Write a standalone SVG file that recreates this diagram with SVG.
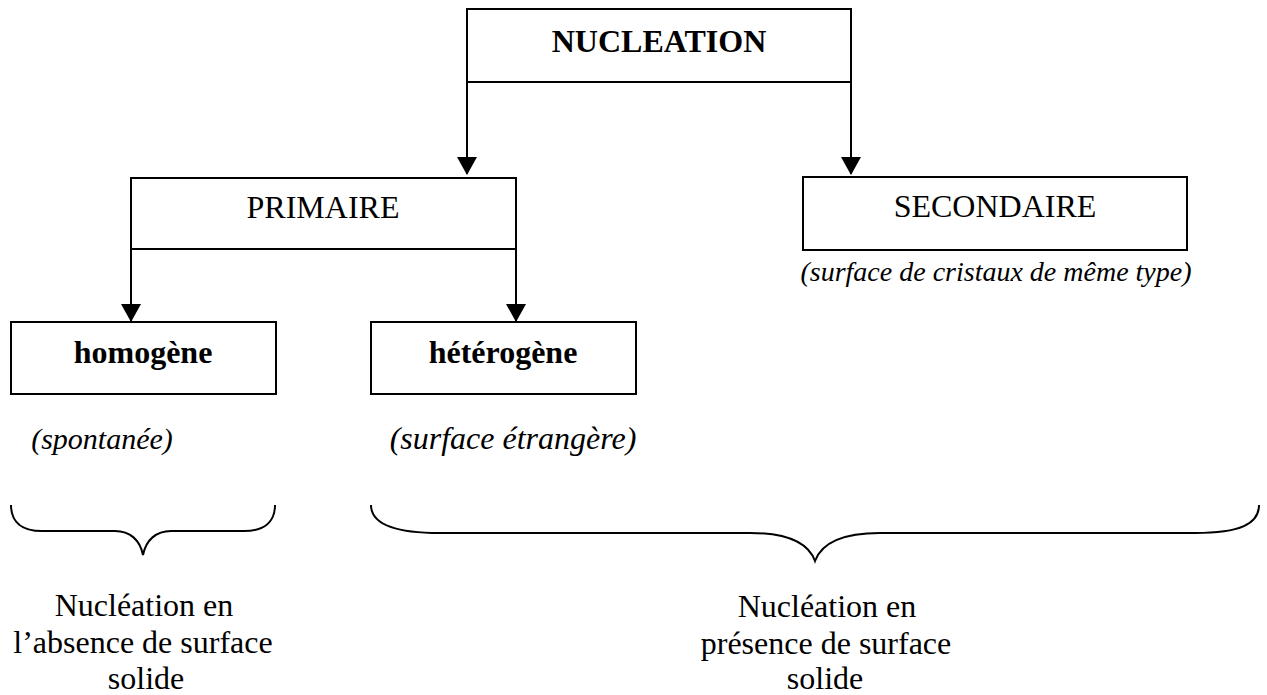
<svg xmlns="http://www.w3.org/2000/svg" width="1267" height="695" viewBox="0 0 1267 695">
<style>
  .box { fill: #fff; stroke: #000; stroke-width: 2; }
  .t { font-family: "Liberation Serif", "Times New Roman", serif; font-size: 32px; fill: #000; text-anchor: middle; }
  .b { font-weight: bold; }
  .i { font-style: italic; }
  .conn { fill: none; stroke: #000; stroke-width: 2; }
  .brace { fill: none; stroke: #000; stroke-width: 2; }
</style>
<defs>
  <marker id="arrow" viewBox="0 0 18 20" refX="17" refY="10" markerWidth="18" markerHeight="20" markerUnits="userSpaceOnUse" orient="auto">
    <path d="M0,0 L18,10 L0,20 z" fill="#000"/>
  </marker>
</defs>
<rect width="1267" height="695" fill="#fff"/>

<g id="connectors">
  <path class="conn" d="M467,82 V174" marker-end="url(#arrow)"/>
  <path class="conn" d="M851,82 V174" marker-end="url(#arrow)"/>
  <path class="conn" d="M131,249 V321" marker-end="url(#arrow)"/>
  <path class="conn" d="M516,249 V321" marker-end="url(#arrow)"/>
</g>

<g id="nucleation">
  <rect class="box" x="467" y="9" width="384" height="73"/>
  <text class="t b" x="659" y="52">NUCLEATION</text>
</g>

<g id="primaire">
  <rect class="box" x="131" y="178" width="385" height="71"/>
  <text class="t" x="323" y="218">PRIMAIRE</text>
</g>

<g id="secondaire">
  <rect class="box" x="803" y="177" width="384" height="73"/>
  <text class="t" x="995" y="217">SECONDAIRE</text>
  <text class="t i" x="996" y="281" style="font-size:28px">(surface de cristaux de même type)</text>
</g>

<g id="homogene">
  <rect class="box" x="11" y="322" width="265" height="72"/>
  <text class="t b" x="143" y="363">homogène</text>
  <text class="t i" x="102" y="449" style="font-size:30px">(spontanée)</text>
</g>

<g id="heterogene">
  <rect class="box" x="371" y="322" width="265" height="72"/>
  <text class="t b" x="503" y="363">hétérogène</text>
  <text class="t i" x="513" y="449">(surface étrangère)</text>
</g>

<g id="brace-left">
  <path class="brace" d="M11,505 C11,522 22,531 42,531 H115 C130,531 140,540 143,555 C146,540 156,531 171,531 H244 C264,531 275,522 275,505"/>
  <text class="t" x="144" y="616">Nucléation en</text>
  <text class="t" x="143" y="653">l’absence de surface</text>
  <text class="t" x="146" y="689">solide</text>
</g>

<g id="brace-right">
  <path class="brace" d="M371,505 C371,524 395,533 440,533 H750 C785,533 808,542 815,561 C822,542 845,533 880,533 H1195 C1240,533 1259,524 1259,505"/>
  <text class="t" x="827" y="617">Nucléation en</text>
  <text class="t" x="826" y="654">présence de surface</text>
  <text class="t" x="825" y="689">solide</text>
</g>
</svg>
